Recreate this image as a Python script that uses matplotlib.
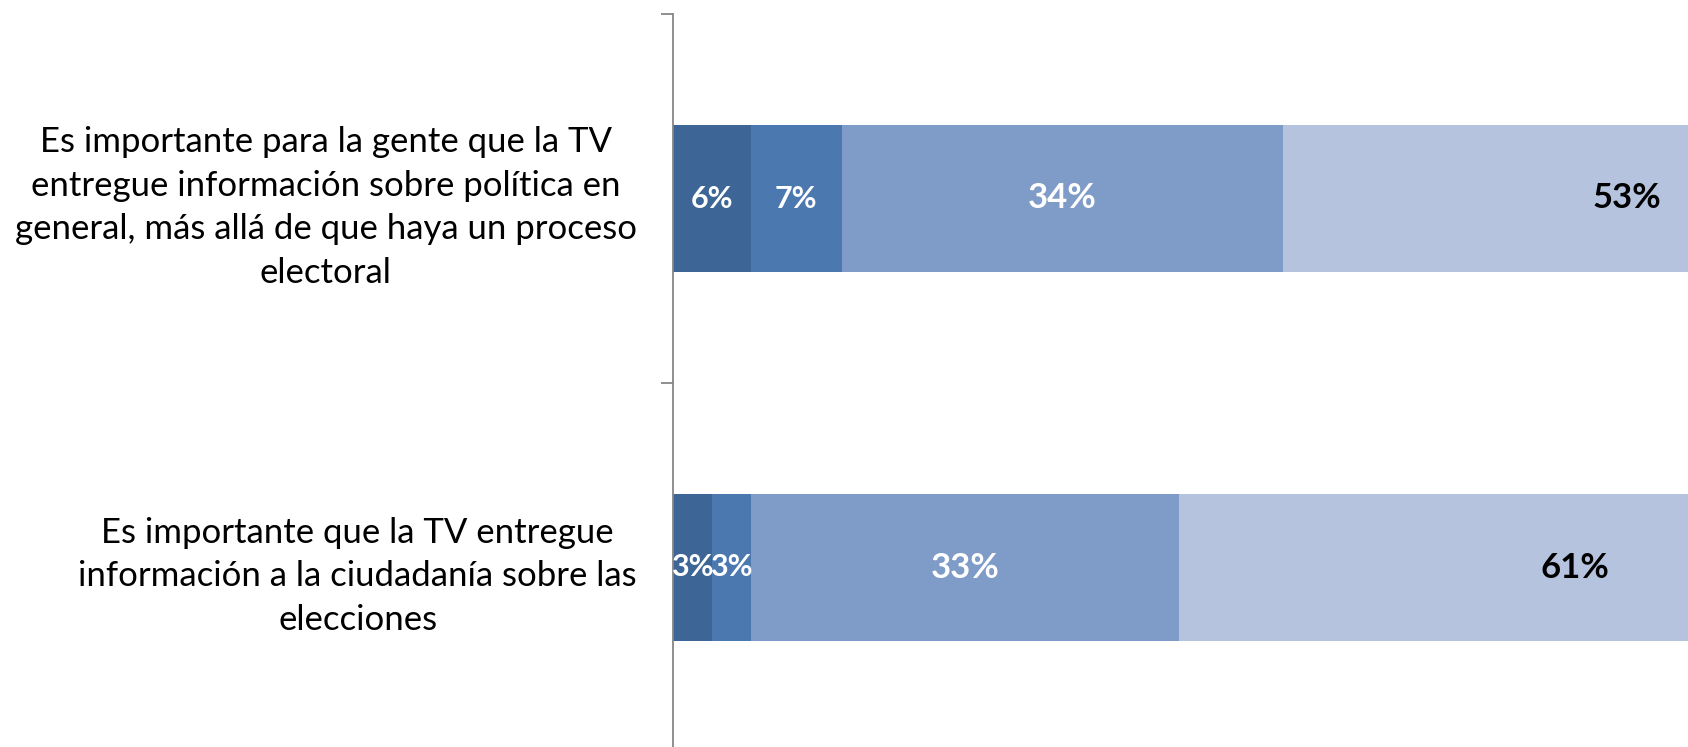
import numpy as np
import matplotlib.pyplot as plt

# Data
categories = [
    "Es importante para la gente que la TV\nentregue información sobre política en\ngeneral, más allá de que haya un proceso\nelectoral",
    "Es importante que la TV entregue\ninformación a la ciudadanía sobre las\nelecciones",
]
seg1 = [6, 3]
seg2 = [7, 3]
seg3 = [34, 33]
seg4 = [53, 61]

colors = ["#3D6595", "#4A78AF", "#7F9BC7", "#B5C3DE"]
text_colors = ["white", "white", "white", "black"]
label_sizes = [22, 22, 25, 25]

W, H = 1688, 747
fig = plt.figure(figsize=(W / 100, H / 100), dpi=100)
ax_left = 673 / W
ax = fig.add_axes([ax_left, (H - 752) / H, 1 - ax_left, 738 / H])

y = np.arange(len(categories))
left = np.zeros(len(categories))
for vals, c, tc, fs in zip([seg1, seg2, seg3, seg4], colors, text_colors, label_sizes):
    vals = np.array(vals, dtype=float)
    ax.barh(y, vals, left=left, height=0.4, color=c, edgecolor="none")
    for yi, l, v in zip(y, left, vals):
        ax.text(l + v / 2, yi, f"{int(v)}%", ha="center", va="center",
                color=tc, fontsize=fs, fontweight="bold", family="Lato")
    left += vals

ax.set_xlim(0, (W - 673) / 12.98)
ax.set_ylim(1.5, -0.5)

for s in ["top", "right", "bottom"]:
    ax.spines[s].set_visible(False)
ax.spines["left"].set_color("#868686")
ax.spines["left"].set_linewidth(1.3)
ax.set_xticks([])

ax.set_yticks(y)
ax.set_yticklabels(categories, fontsize=25, family="Lato", linespacing=1.46)
for t in ax.get_yticklabels():
    t.set_multialignment("center")
ax.tick_params(axis="y", which="major", length=0, pad=26)
ax.set_yticks([-0.5, 0.5, 1.5], minor=True)
ax.tick_params(axis="y", which="minor", length=8.5, width=1.3, color="#868686")

fig.savefig("out.png", dpi=100)
